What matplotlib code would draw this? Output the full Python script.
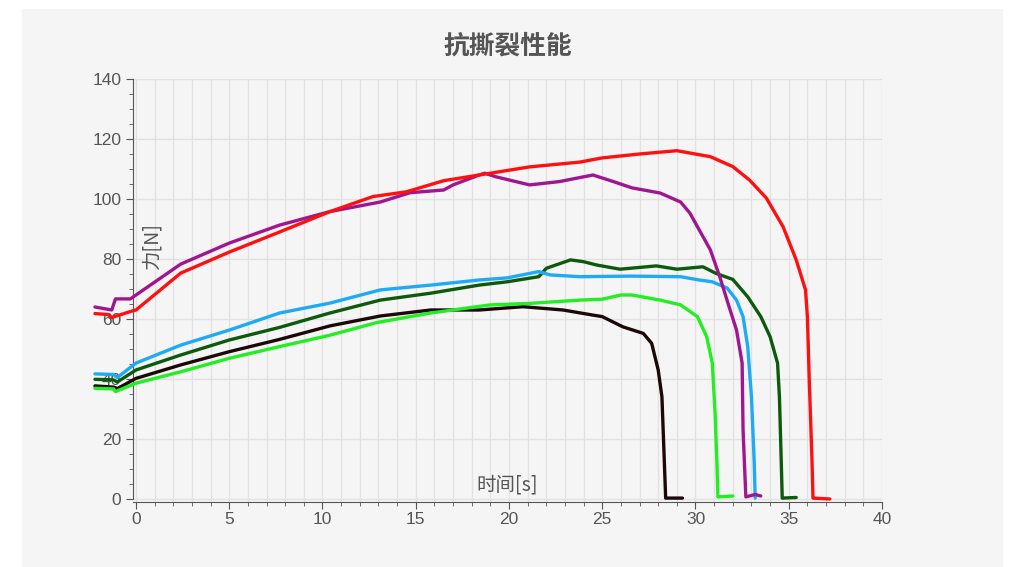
import matplotlib.pyplot as plt
from matplotlib.patches import Rectangle
from matplotlib.ticker import MultipleLocator

plt.rcParams['font.family'] = ['Liberation Sans', 'Noto Sans CJK SC', 'DejaVu Sans']

title = '抗撕裂性能'
x_label = '时间[s]'
y_label = '力[N]'

# time [s] / force [N]
red_t = [-2.2, -1.5, -1.3, -0.3, 0.0, 2.4, 5.0, 7.7, 10.4, 12.7, 14.5, 16.5, 18.4, 21.1, 23.8,
         25.0, 27.0, 29.0, 30.8, 32.0, 32.9, 33.8, 34.7, 35.4, 35.9, 36.0, 36.1, 36.25, 36.3, 37.2]
red_f = [61.8, 61.5, 60.5, 62.5, 63.0, 75.3, 82.3, 89.0, 95.8, 100.8, 102.4, 106.1, 108.0, 110.7, 112.3,
         113.7, 115.0, 116.1, 114.1, 110.8, 106.3, 100.3, 90.7, 79.7, 69.7, 60.7, 39.7, 12.0, 0.3, 0.0]

purple_t = [-2.2, -1.3, -1.1, -0.3, 0.0, 2.4, 5.0, 7.7, 10.4, 13.1, 14.7, 16.5, 17.0, 18.4, 18.7,
            19.3, 21.1, 22.7, 24.5, 25.0, 25.6, 26.6, 28.1, 29.2, 29.7, 30.2, 30.8, 31.3, 31.8,
            32.2, 32.5, 32.55, 32.7, 33.2, 33.5]
purple_f = [64.0, 63.0, 66.7, 66.7, 68.0, 78.3, 85.3, 91.3, 95.8, 99.0, 102.1, 103.0, 104.7, 108.0,
            108.6, 107.4, 104.7, 105.8, 108.0, 107.0, 105.8, 103.7, 102.0, 99.0, 95.3, 89.7, 83.0,
            74.1, 64.1, 56.3, 45.3, 23.0, 0.7, 1.5, 1.0]

blue_t = [-2.2, -1.2, -1.0, 0.0, 2.4, 5.0, 7.7, 10.4, 13.1, 15.8, 18.4, 19.9, 21.6, 22.2, 23.8,
          26.5, 29.2, 30.2, 30.9, 31.7, 32.2, 32.55, 32.8, 33.0, 33.15, 33.2]
blue_f = [41.7, 41.5, 40.5, 45.3, 51.3, 56.3, 62.0, 65.3, 69.7, 71.3, 73.0, 73.7, 75.8, 74.7, 74.1,
          74.3, 74.1, 73.0, 72.4, 70.3, 66.3, 60.8, 50.8, 34.1, 12.0, 0.3]

dkgreen_t = [-2.2, -1.2, -1.0, 0.0, 2.4, 5.0, 7.7, 10.4, 13.1, 15.8, 18.4, 19.9, 21.6, 22.0, 23.3,
             24.0, 24.7, 25.95, 27.9, 29.0, 30.4, 31.1, 32.0, 32.8, 33.5, 34.0, 34.4, 34.5, 34.6,
             34.65, 35.4]
dkgreen_f = [39.9, 39.7, 39.0, 43.0, 48.0, 53.0, 57.2, 62.0, 66.3, 68.6, 71.3, 72.4, 74.1, 76.9, 79.7,
             79.1, 78.0, 76.6, 77.7, 76.6, 77.4, 75.2, 73.2, 67.4, 60.8, 54.1, 45.3, 34.1, 12.0,
             0.3, 0.5]

black_t = [-2.2, -1.2, -1.0, 0.0, 2.4, 5.0, 7.7, 10.4, 13.1, 15.8, 18.4, 20.75, 22.9, 24.5, 25.0,
           26.1, 27.2, 27.65, 28.0, 28.2, 28.3, 28.4, 29.3]
black_f = [37.7, 37.3, 36.8, 40.2, 44.7, 49.1, 53.2, 57.7, 61.0, 63.0, 63.0, 64.1, 63.0, 61.3, 60.8,
           57.4, 55.2, 51.9, 43.0, 34.1, 17.4, 0.3, 0.3]

lime_t = [-2.2, -1.2, -1.1, 0.0, 2.4, 5.0, 7.7, 10.4, 12.9, 15.8, 19.0, 21.1, 23.8, 25.0, 26.0,
          26.6, 28.1, 29.2, 30.1, 30.6, 30.9, 31.05, 31.15, 31.2, 32.0]
lime_f = [36.9, 36.7, 35.8, 38.6, 42.4, 46.9, 50.8, 54.6, 58.8, 62.0, 64.7, 65.2, 66.3, 66.6, 68.0,
          68.0, 66.3, 64.7, 60.8, 54.1, 45.3, 28.6, 12.0, 0.7, 1.0]

series = [
    (black_t, black_f, '#1c0808'),
    (lime_t, lime_f, '#22ee22'),
    (dkgreen_t, dkgreen_f, '#0d5a0d'),
    (blue_t, blue_f, '#1eaaf5'),
    (purple_t, purple_f, '#a0168f'),
    (red_t, red_f, '#ff1010'),
]

fig = plt.figure(figsize=(10.17, 5.67), dpi=100)
fig.patch.set_facecolor('white')
fig.patches.append(Rectangle((22 / 1017, 0), 981 / 1017, 1 - 9 / 567,
                             transform=fig.transFigure, facecolor='#f5f5f5',
                             edgecolor='none', zorder=-10))

ax = fig.add_axes([133 / 1017, 1 - 502 / 567, 749 / 1017, 423 / 567])
ax.set_facecolor('#f5f5f5')

for t, f, c in series:
    ax.plot(t, f, color=c, lw=2.4, clip_on=False, zorder=3,
            solid_joinstyle='round', solid_capstyle='round')

ax.set_xlim(-0.16, 40)
ax.set_ylim(-1, 140)
ax.xaxis.set_major_locator(MultipleLocator(5))
ax.xaxis.set_minor_locator(MultipleLocator(1))
ax.yaxis.set_major_locator(MultipleLocator(20))
ax.yaxis.set_minor_locator(MultipleLocator(5))

ax.grid(True, which='major', axis='y', color='#e2e2e2', lw=1)
ax.grid(True, which='both', axis='x', color='#e2e2e2', lw=1)
ax.set_axisbelow(True)

for s in ['top', 'right']:
    ax.spines[s].set_visible(False)
ax.spines['left'].set_bounds(0, 140)
ax.spines['left'].set_color('#555555')
ax.spines['bottom'].set_color('#555555')
ax.tick_params(which='major', length=5, color='#555555', labelcolor='#555555', labelsize=12.5)
ax.tick_params(which='minor', length=3, color='#555555')
ax.tick_params(axis='x', pad=2)

ax.set_title(title, fontsize=18.5, fontweight='bold', color='#555555',
             family=['Noto Sans CJK SC'], pad=18)
ax.text(0.025, 0.607, y_label, transform=ax.transAxes, rotation=90, ha='center',
        va='center', fontsize=14, color='#555555', family=['Noto Sans CJK SC'])
ax.text(0.499, 0.04, x_label, transform=ax.transAxes, ha='center', va='center',
        fontsize=14, color='#555555', family=['Noto Sans CJK SC'])

fig.savefig('out.png', dpi=100, facecolor=fig.get_facecolor())
